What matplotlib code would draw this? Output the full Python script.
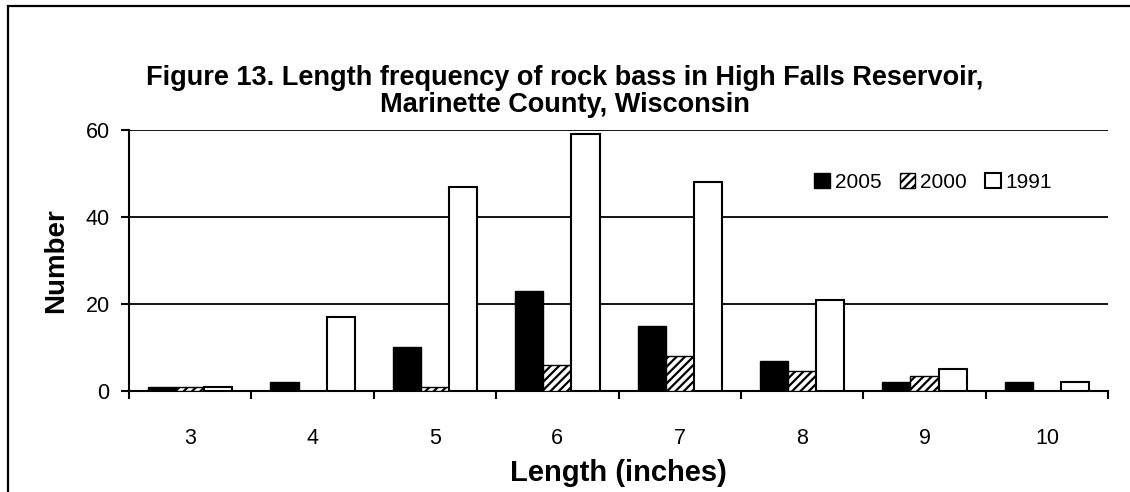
"""Length frequency of rock bass, High Falls Reservoir."""

import matplotlib.pyplot as plt
import numpy as np
from matplotlib.patches import Rectangle

lengths = ["3", "4", "5", "6", "7", "8", "9", "10"]
n_2005 = [1, 2, 10, 23, 15, 7, 2, 2]
n_2000 = [1, 0, 1, 6, 8, 4.5, 3.5, 0]
n_1991 = [1, 17, 47, 59, 48, 21, 5, 2]

plt.rcParams["font.family"] = ["Liberation Sans", "DejaVu Sans"]
plt.rcParams["hatch.color"] = "#303030"
plt.rcParams["hatch.linewidth"] = 1.6

fig = plt.figure(figsize=(11.3, 4.92), dpi=100)
ax = fig.add_axes([0.1142, 0.2053, 0.8664, 0.5305])

x = np.arange(len(lengths))
w = 0.23
ax.bar(x - w, n_2005, w, color="black", edgecolor="black", linewidth=1, label="2005", zorder=3)
ax.bar(x, n_2000, w, color="white", edgecolor="black", hatch="////", linewidth=1, label="2000", zorder=3)
ax.bar(x + w, n_1991, w, color="white", edgecolor="black", linewidth=1.5, label="1991", zorder=3)

ax.set_xlim(-0.5, len(lengths) - 0.5)
ax.set_ylim(0, 60)
ax.set_yticks([0, 20, 40, 60])
ax.set_xticks(x)
ax.set_xticklabels(lengths)
ax.set_xticks(np.arange(len(lengths) + 1) - 0.5, minor=True)
ax.tick_params(axis="x", which="major", length=0, pad=27, labelsize=15.5)
ax.tick_params(axis="x", which="minor", length=6, width=1.5, direction="out")
ax.tick_params(axis="y", length=6, width=1.5, labelsize=15.5, pad=8)
ax.grid(axis="y", color="black", linewidth=1.3, zorder=0)
for side in ["top", "right"]:
    ax.spines[side].set_visible(False)
ax.spines["left"].set_linewidth(1.5)
ax.spines["bottom"].set_linewidth(1.5)

ax.set_ylabel("Number", fontsize=20, fontweight="bold", labelpad=12)
ax.set_xlabel("Length (inches)", fontsize=21, fontweight="bold", labelpad=7)
fig.text(0.5, 0.814, "Figure 13. Length frequency of rock bass in High Falls Reservoir,\nMarinette County, Wisconsin",
         ha="center", va="center", fontsize=19.5, fontweight="bold", linespacing=1.06)

ax.legend(loc="center right", bbox_to_anchor=(0.943, 0.80), ncol=3, frameon=False, fontsize=15,
          handlelength=0.75, handleheight=0.75, handletextpad=0.25, columnspacing=0.85,
          borderpad=0, borderaxespad=0)

fig.patches.append(Rectangle((0.007, -0.05), 1.1, 1.038, transform=fig.transFigure,
                             fill=False, edgecolor="black", linewidth=1.6))

fig.savefig("out.png", dpi=100)
